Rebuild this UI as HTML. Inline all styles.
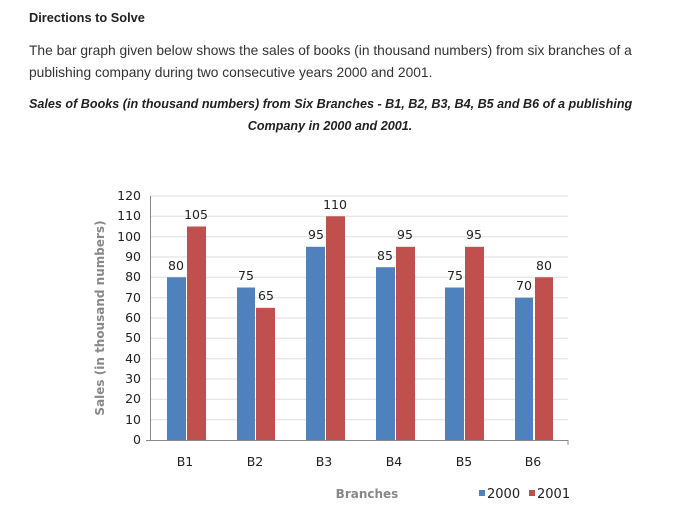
<!DOCTYPE html>
<html><head><meta charset="utf-8"><style>
body{margin:0;background:#fff;width:680px;height:518px;overflow:hidden;font-family:"Liberation Sans",sans-serif;}
.t{position:absolute;left:29px;color:#222;white-space:nowrap}
</style></head><body>
<div class="t" style="top:10px;font-size:12.8px;font-weight:bold;">Directions to Solve</div>
<div class="t" style="top:43px;font-size:13.8px;color:#333;">The bar graph given below shows the sales of books (in thousand numbers) from six branches of a</div>
<div class="t" style="top:65px;font-size:13.8px;color:#333;">publishing company during two consecutive years 2000 and 2001.</div>
<div class="t" style="top:97px;font-size:12.6px;font-weight:bold;font-style:italic;">Sales of Books (in thousand numbers) from Six Branches - B1, B2, B3, B4, B5 and B6 of a publishing</div>
<div class="t" style="top:119px;left:0;width:660px;text-align:center;font-size:12.6px;font-weight:bold;font-style:italic;">Company in 2000 and 2001.</div>
<svg width="680" height="518" style="position:absolute;left:0;top:0" font-family="DejaVu Sans, sans-serif">
<g stroke="#ddd" stroke-width="1">
<line x1="150" x2="568" y1="196" y2="196"/><line x1="150" x2="568" y1="216.3" y2="216.3"/><line x1="150" x2="568" y1="236.7" y2="236.7"/><line x1="150" x2="568" y1="257" y2="257"/><line x1="150" x2="568" y1="277.3" y2="277.3"/><line x1="150" x2="568" y1="297.7" y2="297.7"/><line x1="150" x2="568" y1="318" y2="318"/><line x1="150" x2="568" y1="338.3" y2="338.3"/><line x1="150" x2="568" y1="358.7" y2="358.7"/><line x1="150" x2="568" y1="379" y2="379"/><line x1="150" x2="568" y1="399.3" y2="399.3"/><line x1="150" x2="568" y1="419.7" y2="419.7"/>
</g>
<g stroke="#888"><line x1="150.5" x2="150.5" y1="196" y2="440"/><line x1="146" x2="568" y1="440.5" y2="440.5"/>
<line x1="568" x2="568" y1="440" y2="445"/>
</g>
<g font-size="12.5" fill="#222" text-anchor="end">
<text x="141" y="200">120</text><text x="141" y="220">110</text><text x="141" y="241">100</text><text x="141" y="261">90</text><text x="141" y="281">80</text><text x="141" y="302">70</text><text x="141" y="322">60</text><text x="141" y="342">50</text><text x="141" y="363">40</text><text x="141" y="383">30</text><text x="141" y="403">20</text><text x="141" y="424">10</text><text x="141" y="444">0</text>
</g>
<text transform="translate(104,318) rotate(-90)" text-anchor="middle" font-size="12" font-weight="bold" fill="#888">Sales (in thousand numbers)</text>
<g fill="#4f81bd">
<rect x="167" y="277.3" width="19" height="162.7"/><rect x="237" y="287.5" width="18" height="152.5"/><rect x="306" y="246.8" width="19" height="193.2"/><rect x="376" y="267.2" width="19" height="172.8"/><rect x="445" y="287.5" width="19" height="152.5"/><rect x="515" y="297.7" width="18" height="142.3"/>
</g>
<g fill="#c0504d">
<rect x="187" y="226.5" width="19" height="213.5"/><rect x="256" y="307.8" width="19" height="132.2"/><rect x="326" y="216.3" width="19" height="223.7"/><rect x="396" y="246.8" width="19" height="193.2"/><rect x="465" y="246.8" width="19" height="193.2"/><rect x="535" y="277.3" width="18" height="162.7"/>
</g>
<g font-size="12.5" fill="#222" text-anchor="middle">
<text x="176" y="270">80</text><text x="196" y="219">105</text>
<text x="246" y="280">75</text><text x="266" y="300">65</text>
<text x="316" y="239">95</text><text x="335" y="209">110</text>
<text x="385" y="260">85</text><text x="405" y="239">95</text>
<text x="455" y="280">75</text><text x="474" y="239">95</text>
<text x="524" y="290">70</text><text x="544" y="270">80</text>
</g>
<g font-size="12.5" fill="#222" text-anchor="middle">
<text x="185" y="466">B1</text><text x="255" y="466">B2</text><text x="324" y="466">B3</text><text x="394" y="466">B4</text><text x="464" y="466">B5</text><text x="533" y="466">B6</text>
</g>
<text x="367" y="498" text-anchor="middle" font-size="12" font-weight="bold" fill="#888">Branches</text>
<rect x="479" y="490" width="6" height="6" fill="#4f81bd"/><text x="487" y="498" font-size="13" fill="#222">2000</text>
<rect x="529" y="490" width="6" height="6" fill="#c0504d"/><text x="537" y="498" font-size="13" fill="#222">2001</text>
</svg>
</body></html>
